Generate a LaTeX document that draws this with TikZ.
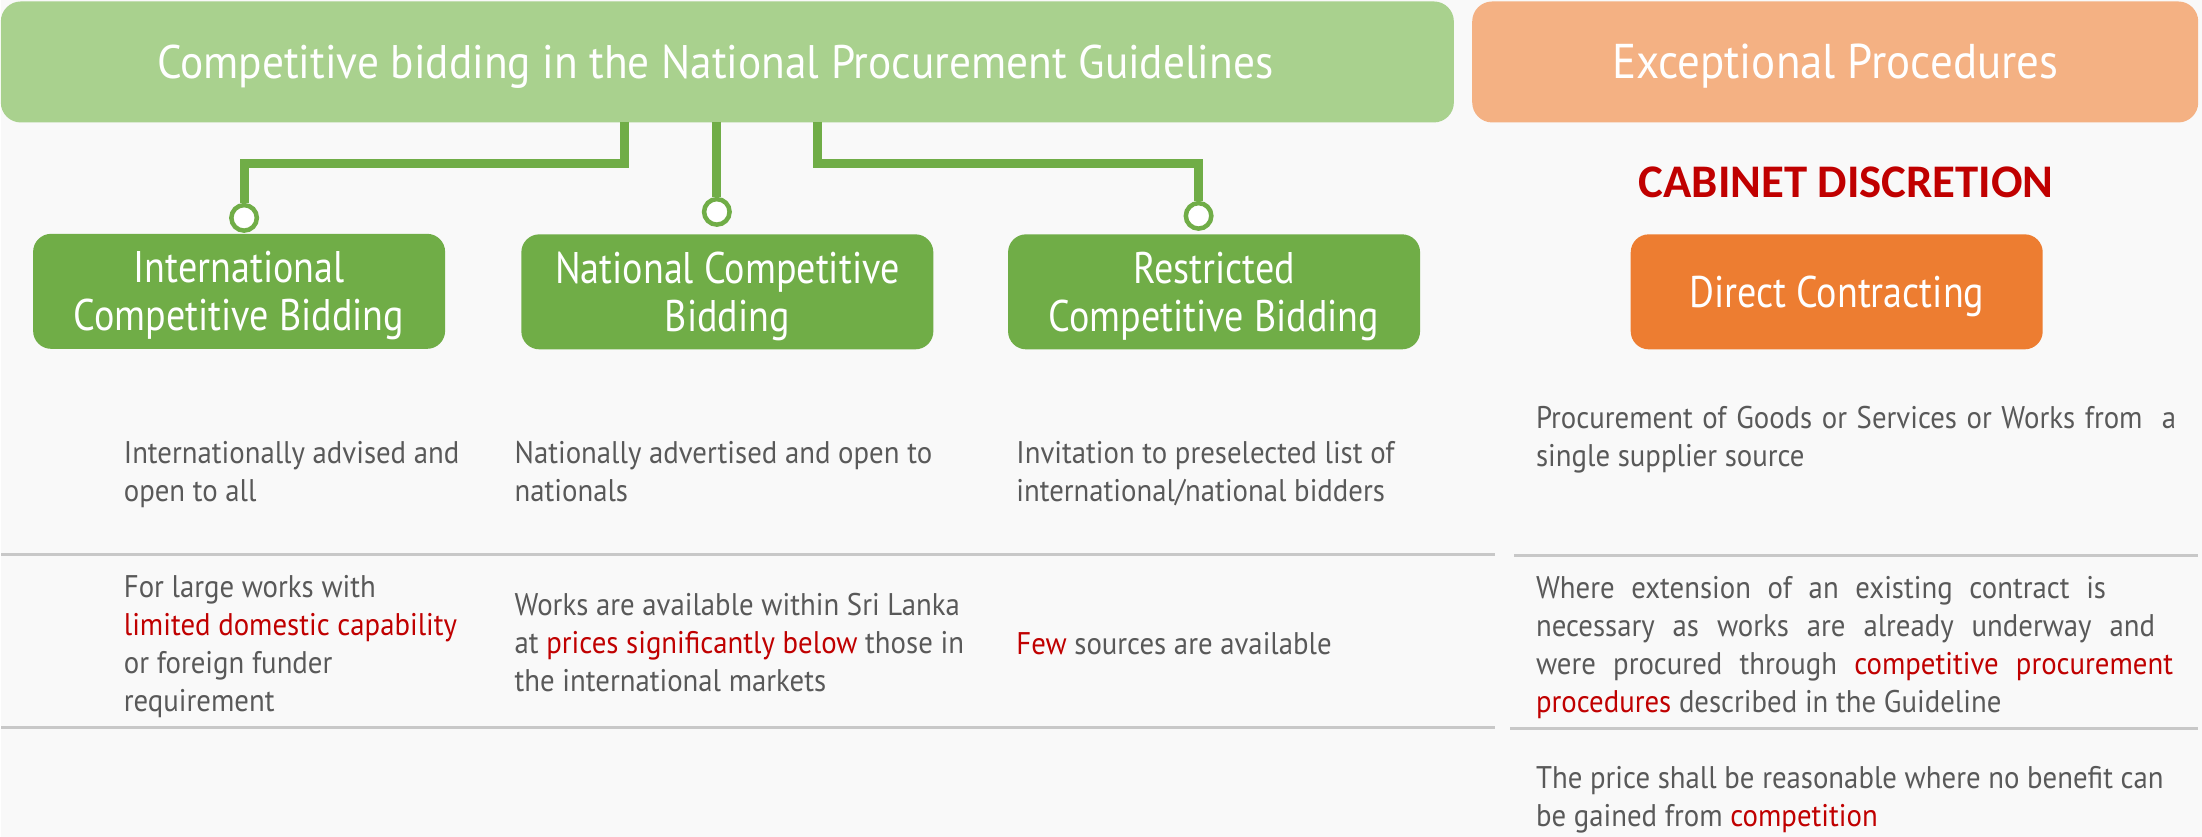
\documentclass[tikz,border=0pt]{standalone}
\usepackage{fontspec}
\setmainfont{PT Sans}[FakeStretch=0.92]
\newfontfamily\boxfont{PT Sans}[FakeStretch=0.86]
\newfontfamily\capsfont{Carlito}

\definecolor{paper}{HTML}{F9F9F9}
\definecolor{sage}{HTML}{A9D18E}
\definecolor{leaf}{HTML}{70AD47}
\definecolor{peach}{HTML}{F4B183}
\definecolor{flame}{HTML}{ED7D31}
\definecolor{ink}{HTML}{595959}
\definecolor{crimson}{HTML}{C00000}
\definecolor{rulegray}{HTML}{C8C8C8}

\newcommand{\hot}[1]{\textcolor{crimson}{#1}}

\begin{document}
\begin{tikzpicture}[x=0.01cm, y=-0.01cm,
    head/.style={rounded corners=0.2cm, minimum height=1.21cm, inner sep=0pt,
        text=white, text height=9.4pt, text depth=0pt,
        font=\fontsize{13.4}{16}\selectfont},
    method/.style={fill=leaf, rounded corners=0.18cm, minimum width=4.12cm,
        minimum height=1.15cm, inner sep=0pt, text=white, align=center,
        text height=22.46pt, text depth=0pt,
        font=\boxfont\fontsize{12.6}{13.66}\selectfont},
    ring/.style={circle, draw=leaf, fill=white, line width=0.045cm,
        minimum size=0.255cm, inner sep=0pt},
    link/.style={draw=leaf, line width=0.09cm},
    rule/.style={draw=rulegray, line width=0.025cm},
    desc/.style={anchor=base west, align=left, inner sep=0pt, text=ink,
        font=\fontsize{8.9}{10.85}\selectfont}]

    % Fundo
    \fill[paper] (0,0) rectangle (2202,837);

    % Cabecalhos
    \node[head, fill=sage, minimum width=14.53cm] (guide) at (726.5,62)
        {Competitive bidding in the National Procurement Guidelines\hspace*{0.24cm}};
    \node[head, fill=peach, minimum width=7.26cm, font=\fontsize{13.9}{16}\selectfont] (except) at (1835,62)
        {Exceptional Procedures};

    % Metodos
    \node[method] (icb) at (238,291.5) {International\\Competitive Bidding};
    \node[method] (ncb) at (726.5,292) {National Competitive\\Bidding};
    \node[method] (rcb) at (1213.5,292) {Restricted\\Competitive Bidding};
    \node[method, fill=flame, text height=8.8pt] (direct) at (1836.5,292)
        {Direct Contracting};
    \node[anchor=base, text=crimson, inner sep=0pt,
        font=\capsfont\bfseries\fontsize{13.3}{16}\selectfont] (cabinet) at (1846,198)
        {CABINET DISCRETION};

    % Ligacoes
    \node[ring] (ringL) at (243,218) {};
    \node[ring] (ringM) at (716,212) {};
    \node[ring] (ringR) at (1198,216) {};
    \coordinate (tapL) at (624,122);
    \coordinate (tapM) at (716,122);
    \coordinate (tapR) at (817,122);
    \draw[link] (tapL) -- ++(0,42) -| (ringL);
    \draw[link] (tapM) -- (ringM);
    \draw[link] (tapR) -- ++(0,42) -| (ringR);

    % Separadores
    \draw[rule] (0,555) -- (1495,555);
    \draw[rule] (1514,556) -- (2198,556);
    \draw[rule] (0,728) -- (1495,728);
    \draw[rule] (1510,729) -- (2198,729);

    % Descricoes (ancoradas na ultima linha)
    \node[desc] (icbReach) at (122,502) {Internationally advised and\\open to all};
    \node[desc] (ncbReach) at (513,502) {Nationally advertised and open to\\nationals};
    \node[desc] (rcbReach) at (1015,502) {Invitation to preselected list of\\international/national bidders};
    \node[desc] (dcReach) at (1535,467)
        {\makebox[6.4cm][s]{Procurement of Goods or Services or Works from\ \ a}\\single supplier source};

    \node[desc] (icbWhen) at (122,712)
        {For large works with\\\hot{limited domestic capability}\\or foreign funder\\requirement};
    \node[desc] (ncbWhen) at (513,692)
        {Works are available within Sri Lanka\\at \hot{prices significantly below} those in\\the international markets};
    \node[desc] (rcbWhen) at (1015,655) {\hot{Few} sources are available};
    \node[desc] (dcWhen) at (1535,713)
        {\makebox[5.7cm][s]{Where extension of an existing contract is}\\
         \makebox[6.19cm][s]{necessary as works are already underway and}\\
         \makebox[6.37cm][s]{were procured through \hot{competitive procurement}}\\
         \hot{procedures} described in the Guideline};
    \node[desc] (dcPrice) at (1535,827)
        {The price shall be reasonable where no benefit can\\be gained from \hot{competition}};
\end{tikzpicture}
\end{document}
